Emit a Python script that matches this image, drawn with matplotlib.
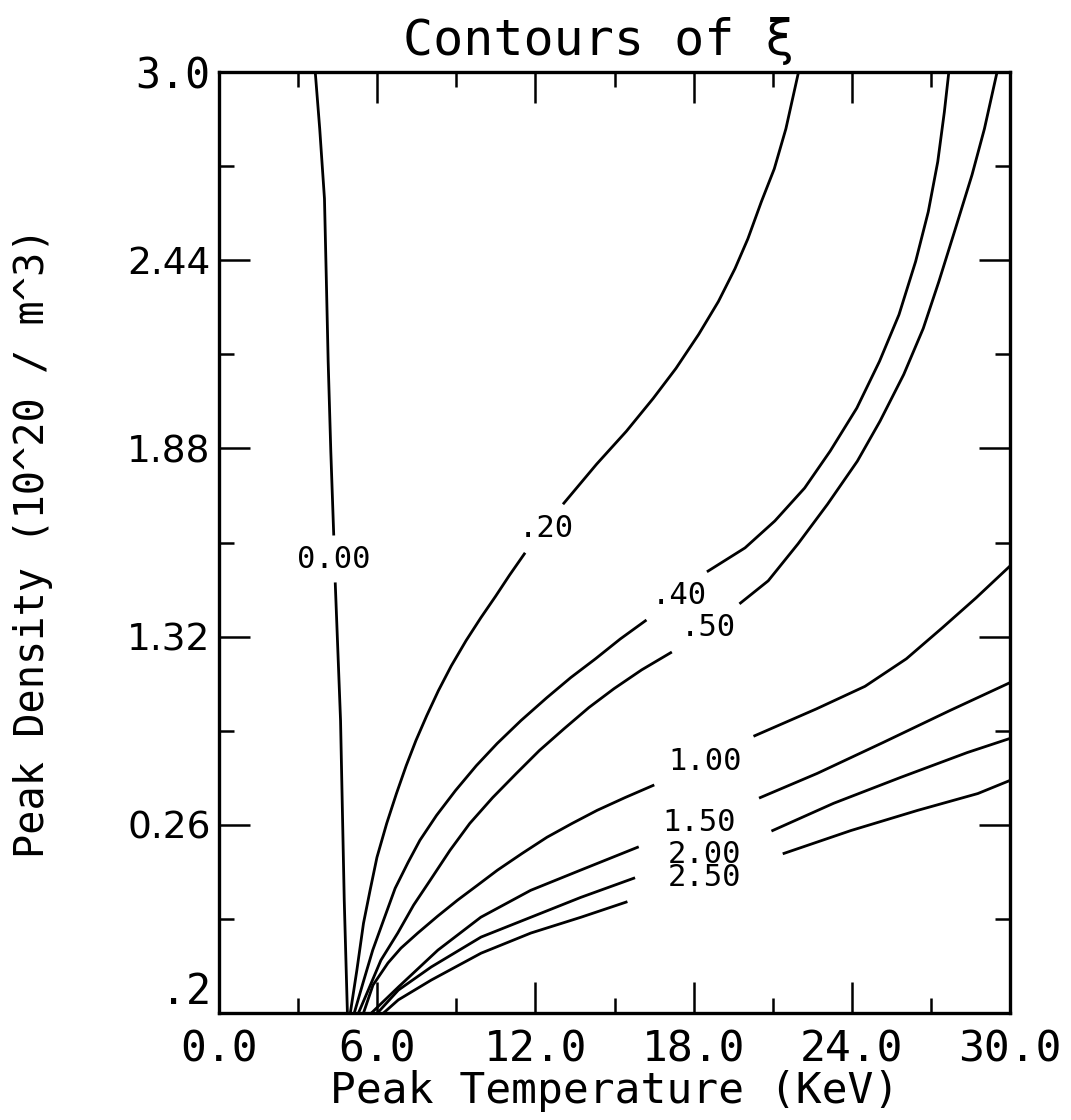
import numpy as np
import matplotlib
matplotlib.use("Agg")
import matplotlib.pyplot as plt
from matplotlib.ticker import FixedLocator

nan = np.nan

# contour levels of xi and the text printed on each line
xi_levels = [0.0, 0.2, 0.4, 0.5, 1.0, 1.5, 2.0, 2.5]
xi_text = ["0.00", ".20", ".40", ".50", "1.00", "1.50", "2.00", "2.50"]

# points: peak temperature (keV) / peak density
# nan marks the gap left for the label
t_000 = [4.87, 4.75, 4.61, 4.41, nan, 4.35, 4.24, 4.14, 4.07, 4.00, 3.82, 3.65]
n_000 = [0.20, 0.536, 1.070, 1.477, nan, 1.625, 1.872, 2.139, 2.385, 2.623, 2.831, 3.0]

t_020 = [4.98, 5.23, 5.48, 5.73, 5.99, 6.36, 6.73, 7.10, 7.47, 7.88, 8.32, 8.81,
         9.37, 9.93, 10.49, 11.02, 11.58, nan,
         13.08, 14.32, 15.45, 16.47, 17.33, 18.19, 18.94, 19.57, 20.06, 20.57,
         21.06, 21.50, 21.98]
n_020 = [0.20, 0.328, 0.467, 0.565, 0.663, 0.764, 0.853, 0.936, 1.011, 1.085,
         1.159, 1.233, 1.308, 1.376, 1.440, 1.503, 1.566, nan,
         1.717, 1.833, 1.931, 2.029, 2.118, 2.219, 2.317, 2.415, 2.504, 2.614,
         2.712, 2.831, 3.0]

t_040 = [5.13, 5.46, 5.83, 6.24, 6.68, 7.17, 7.62, 8.25, 8.97, 9.76, 10.55,
         11.45, 12.43, 13.34, 14.28, 15.22, 16.17, nan,
         18.55, 19.95, 21.08, 22.21, 23.18, 24.19, 25.05, 25.79, 26.42, 26.90,
         27.26, 27.51, 27.68]
n_040 = [0.20, 0.289, 0.387, 0.476, 0.571, 0.648, 0.714, 0.788, 0.862, 0.936,
         1.002, 1.070, 1.138, 1.198, 1.254, 1.313, 1.367, nan,
         1.515, 1.584, 1.664, 1.762, 1.872, 2.000, 2.139, 2.278, 2.436, 2.584,
         2.733, 2.881, 3.0]

t_050 = [5.29, 5.66, 6.14, 6.78, 7.38, 8.01, 8.76, 9.51, 10.38, 11.28, 12.15,
         13.09, 14.03, 14.98, 16.03, 17.13, nan,
         19.78, 20.83, 21.96, 23.08, 24.21, 25.07, 25.97, 26.71, 27.30, 27.93,
         28.56, 29.03, 29.51]
n_050 = [0.20, 0.268, 0.357, 0.438, 0.521, 0.595, 0.684, 0.764, 0.841, 0.913,
         0.981, 1.046, 1.109, 1.165, 1.221, 1.272, nan,
         1.420, 1.486, 1.596, 1.714, 1.842, 1.961, 2.100, 2.237, 2.376, 2.534,
         2.694, 2.831, 3.0]

t_100 = [5.48, 5.84, 6.41, 6.90, 7.54, 8.29, 9.05, 9.80, 10.56, 11.50, 12.44,
         13.39, 14.34, 15.40, 16.46, nan,
         20.32, 22.66, 24.50, 26.07, 27.43, 28.71, 30.0]
n_100 = [0.20, 0.283, 0.349, 0.393, 0.438, 0.488, 0.536, 0.580, 0.625, 0.675,
         0.723, 0.764, 0.803, 0.841, 0.877, nan,
         1.025, 1.105, 1.172, 1.254, 1.346, 1.435, 1.530]

t_150 = [5.78, 6.80, 8.30, 9.93, 11.82, 13.71, 15.87, nan,
         20.53, 22.69, 25.19, 27.72, 30.0]
n_150 = [0.20, 0.277, 0.387, 0.485, 0.565, 0.625, 0.693, nan,
         0.841, 0.913, 1.005, 1.100, 1.183]

t_200 = [6.01, 6.80, 8.05, 9.94, 11.83, 13.72, 15.73, nan,
         21.00, 23.31, 25.85, 28.38, 30.0]
n_200 = [0.20, 0.268, 0.337, 0.426, 0.485, 0.544, 0.601, nan,
         0.743, 0.824, 0.901, 0.975, 1.017]

t_250 = [6.24, 6.80, 8.05, 9.94, 11.83, 13.73, 15.44, nan,
         21.43, 23.97, 26.50, 28.78, 30.0]
n_250 = [0.20, 0.239, 0.298, 0.378, 0.438, 0.485, 0.530, nan,
         0.675, 0.743, 0.803, 0.853, 0.892]

x_ticks = [0, 6, 12, 18, 24, 30]
x_ticklabels = ["0.0", "6.0", "12.0", "18.0", "24.0", "30.0"]
y_ticks = [0.2, 0.76, 1.32, 1.88, 2.44, 3.0]
y_ticklabels = [".2", "0.26", "1.32", "1.88", "2.44", "3.0"]

MONO = "DejaVu Sans Mono"

contours = [(t_000, n_000), (t_020, n_020), (t_040, n_040), (t_050, n_050),
            (t_100, n_100), (t_150, n_150), (t_200, n_200), (t_250, n_250)]
# where each level's text sits (in the gap of its line)
label_at = [(4.36, 1.548), (12.41, 1.643), (17.45, 1.441), (18.57, 1.346),
            (18.43, 0.948), (18.21, 0.767), (18.42, 0.672), (18.43, 0.604)]

fig = plt.figure(figsize=(10.71, 11.2), dpi=100)
ax = fig.add_axes([219 / 1071, 1 - 1013 / 1120, 791 / 1071, 941 / 1120])

for (t, n), txt, (lx, ly) in zip(contours, xi_text, label_at):
    ax.plot(t, n, color="black", linewidth=2.0, solid_joinstyle="round")
    ax.text(lx, ly, txt, ha="center", va="center", fontsize=22, family=MONO)

ax.set_xlim(0, 30)
ax.set_ylim(0.2, 3.0)

ax.set_xticks(x_ticks)
ax.set_xticklabels(x_ticklabels, family=MONO, fontsize=31)
ax.xaxis.set_minor_locator(FixedLocator([3, 9, 15, 21, 27]))

ax.set_yticks(y_ticks)
ax.set_yticklabels(y_ticklabels, fontsize=27)
ax.yaxis.set_minor_locator(FixedLocator([0.48, 1.04, 1.60, 2.16, 2.72]))
ylabs = ax.get_yticklabels()
for lab in (ylabs[0], ylabs[-1]):
    lab.set_family(MONO)
    lab.set_fontsize(30)
ylabs[0].set_verticalalignment("bottom")

ax.tick_params(which="both", direction="in", top=True, right=True,
               width=1.8, color="black")
ax.tick_params(which="major", length=22)
ax.tick_params(axis="x", which="major", pad=11)
ax.tick_params(axis="y", which="major", pad=6)
ax.tick_params(which="minor", length=11)

for sp in ax.spines.values():
    sp.set_linewidth(2.4)

ax.set_xlabel("Peak Temperature (KeV)", family=MONO, fontsize=31, labelpad=0)
ax.set_ylabel("Peak Density (10^20 / m^3)", family=MONO, fontsize=29)
ax.yaxis.set_label_coords(-0.21, 0.5)
ax.set_title("Contours of ξ", family=MONO, fontsize=36, pad=12, x=0.48)

fig.savefig("out.png", dpi=100)
